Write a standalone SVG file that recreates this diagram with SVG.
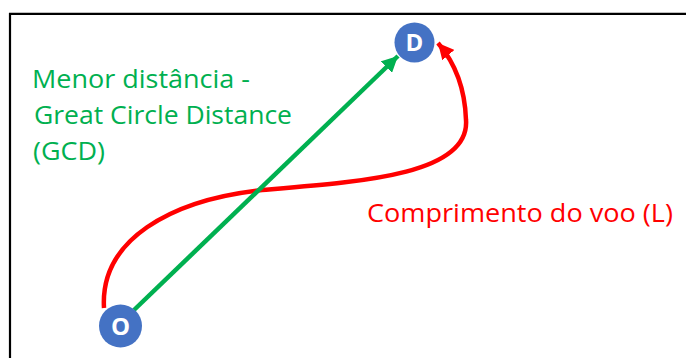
<svg xmlns="http://www.w3.org/2000/svg" width="686" height="358" viewBox="0 0 686 358">
<style>
.lbl{font-family:"Open Sans","Liberation Sans",sans-serif;font-size:26px}
.g{fill:#00B050}
.r{fill:#FF0000}
.node circle{fill:#4472C4}
.node text{font-family:"Open Sans","Liberation Sans",sans-serif;font-size:24px;font-weight:bold;fill:#fff;text-anchor:middle}
</style>
<defs>
<marker id="ag" markerUnits="userSpaceOnUse" markerWidth="18" markerHeight="16" refX="16" refY="8" orient="auto">
<path d="M0,0 L16,8 L0,16 Z" fill="#00B050"/>
</marker>
<marker id="ar" markerUnits="userSpaceOnUse" markerWidth="18" markerHeight="16" refX="16" refY="8" orient="auto">
<path d="M0,0 L16,8 L0,16 Z" fill="#FF0000"/>
</marker>
</defs>
<rect width="686" height="358" fill="#fff"/>
<path d="M10,358 V13.8 H686" fill="none" stroke="#000" stroke-width="2.2"/>
<g id="connectors">
<path d="M104,308 C100,240 170,200 262,190 C360,182 470,175 466,120 C465,88 456,64 438,43" fill="none" stroke="#FF0000" stroke-width="4.5" marker-end="url(#ar)"/>
<path d="M134,310 L398,56" fill="none" stroke="#00B050" stroke-width="4.5" marker-end="url(#ag)"/>
</g>
<g id="node-O" class="node">
<circle cx="120.5" cy="326" r="21.5"/>
<text x="120.5" y="334.5">O</text>
</g>
<g id="node-D" class="node">
<circle cx="414.5" cy="42.5" r="20"/>
<text x="414.5" y="51">D</text>
</g>
<g id="label-gcd">
<text class="lbl g" x="32" y="88" textLength="218" lengthAdjust="spacingAndGlyphs">Menor distância -</text>
<text class="lbl g" x="34" y="124" textLength="258" lengthAdjust="spacingAndGlyphs">Great Circle Distance</text>
<text class="lbl g" x="33" y="160" textLength="72" lengthAdjust="spacingAndGlyphs">(GCD)</text>
</g>
<g id="label-l">
<text class="lbl r" x="367" y="222" textLength="306" lengthAdjust="spacingAndGlyphs">Comprimento do voo (L)</text>
</g>
</svg>
